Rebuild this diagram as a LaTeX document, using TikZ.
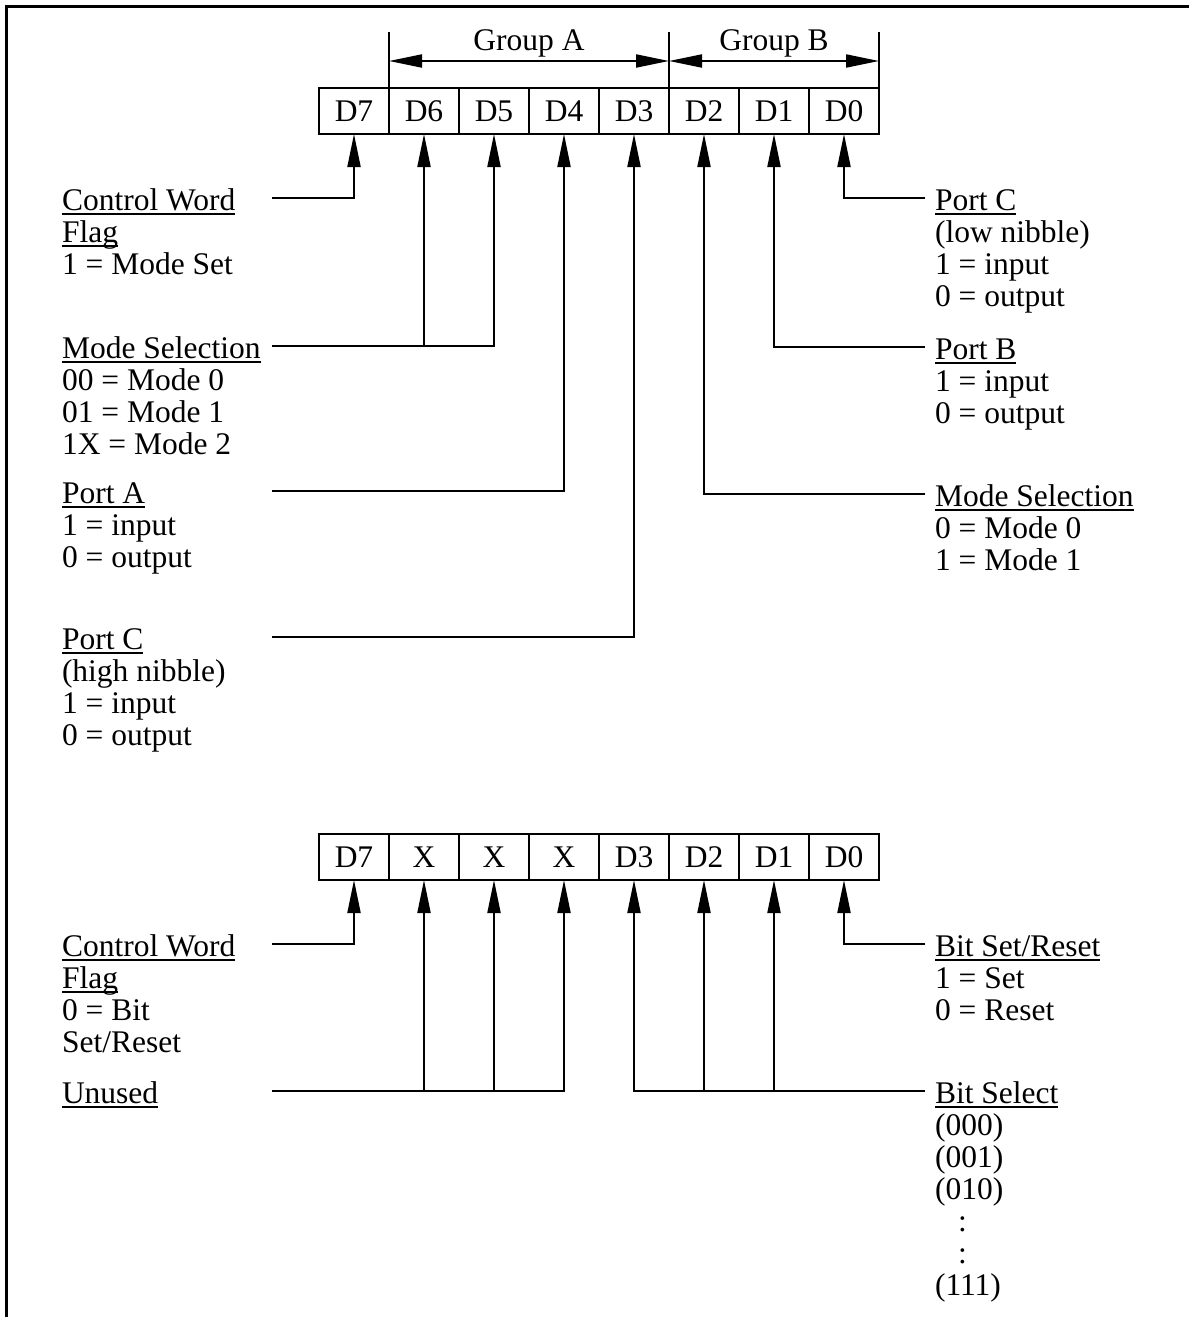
\documentclass[tikz,border=0pt]{standalone}
\usepackage{fontspec}
\setmainfont{Liberation Serif}
\usetikzlibrary{arrows.meta}
\newcommand\ulx[1]{\setbox0\hbox{#1}\rlap{\rule[-4.5pt]{\wd0}{1.5pt}}\box0}
\newcommand\blk[1]{\begin{tabular}[t]{@{}l@{}}#1\end{tabular}}
\begin{document}
\begin{tikzpicture}[x=1pt,y=-1pt,
  every node/.style={font=\fontsize{31.5}{32}\selectfont},
  cell/.style={draw, line width=2pt, minimum width=70pt, minimum height=46pt, inner sep=0pt, outer sep=0pt, anchor=north west},
  lbl/.style={anchor=base west, inner sep=0pt, outer sep=0pt},
  conn/.style={line width=2pt},
  arr/.style={line width=2pt, -{Triangle[length=33pt,width=13pt]}},
  darr/.style={line width=2pt, {Triangle[length=33pt,width=13pt]}-{Triangle[length=33pt,width=13pt]}},
  frame/.style={line width=3pt}
]
\useasboundingbox (0,0) rectangle (1189,1317);
% frame
\coordinate (fbl) at (6.5,1317);
\coordinate (ftl) at (6.5,6);
\coordinate (ftr) at (1189,6);
\draw[frame] (fbl) -- (ftl) -- (ftr);

% top register
\foreach \n/\t [count=\i from 0] in {7/D7,6/D6,5/D5,4/D4,3/D3,2/D2,1/D1,0/D0}
  \node[cell] (t\n) at (319+70*\i,88) {\t};
% bottom register
\foreach \n/\t [count=\i from 0] in {7/D7,6/X,5/X,4/X,3/D3,2/D2,1/D1,0/D0}
  \node[cell] (b\n) at (319+70*\i,834) {\t};

% group brackets
\coordinate (g1) at (389,32);
\coordinate (g2) at (669,32);
\coordinate (g3) at (879,32);
\draw[conn] (g1) -- (t6.north west);
\draw[conn] (g2) -- (t2.north west);
\draw[conn] (g3) -- (t0.north east);
\coordinate (ga1) at (389,61);
\coordinate (ga2) at (669,61);
\coordinate (ga3) at (879,61);
\draw[darr] (ga1) -- (ga2);
\draw[darr] (ga2) -- (ga3);
\node[anchor=base, inner sep=0pt] (grpA) at (529,50) {Group A};
\node[anchor=base, inner sep=0pt] (grpB) at (774,50) {Group B};

% left labels (top)
\node[lbl] (L1) at (62,210) {\blk{\ulx{Control Word}\\\ulx{Flag}\\1 = Mode Set}};
\node[lbl] (L2) at (62,358) {\blk{\ulx{Mode Selection}\\00 = Mode 0\\01 = Mode 1\\1X = Mode 2}};
\node[lbl] (L3) at (62,503) {\blk{\ulx{Port A}\\1 = input\\0 = output}};
\node[lbl] (L4) at (62,649) {\blk{\ulx{Port C}\\(high nibble)\\1 = input\\0 = output}};
% right labels (top)
\node[lbl] (R1) at (935,210) {\blk{\ulx{Port C}\\(low nibble)\\1 = input\\0 = output}};
\node[lbl] (R2) at (935,359) {\blk{\ulx{Port B}\\1 = input\\0 = output}};
\node[lbl] (R3) at (935,506) {\blk{\ulx{Mode Selection}\\0 = Mode 0\\1 = Mode 1}};
% bottom labels
\node[lbl] (L5) at (62,956) {\blk{\ulx{Control Word}\\\ulx{Flag}\\0 = Bit\\Set/Reset}};
\node[lbl] (L6) at (62,1103) {\blk{\ulx{Unused}}};
\node[lbl] (R4) at (935,956) {\blk{\ulx{Bit Set/Reset}\\1 = Set\\0 = Reset}};
\node[lbl] (R5) at (935,1103) {\blk{\ulx{Bit Select}\\(000)\\(001)\\(010)\\\hspace{23pt}:\\\hspace{23pt}:\\(111)}};

% connector start points
\coordinate (cL1) at (272,198);
\coordinate (cL2) at (272,346);
\coordinate (cL3) at (272,491);
\coordinate (cL4) at (272,637);
\coordinate (cR1) at (925,198);
\coordinate (cR2) at (925,347);
\coordinate (cR3) at (925,494);
\coordinate (cL5) at (272,944);
\coordinate (cL6) at (272,1091);
\coordinate (cR4) at (925,944);
\coordinate (cR5) at (925,1091);

% top connectors
\draw[arr] (cL1) -| (t7.south);
\draw[arr] (cL2) -| (t5.south);
\draw[arr] (t6.south |- cL2) -- (t6.south);
\draw[arr] (cL3) -| (t4.south);
\draw[arr] (cL4) -| (t3.south);
\draw[arr] (cR1) -| (t0.south);
\draw[arr] (cR2) -| (t1.south);
\draw[arr] (cR3) -| (t2.south);
% bottom connectors
\draw[arr] (cL5) -| (b7.south);
\draw[arr] (cL6) -| (b4.south);
\draw[arr] (b6.south |- cL6) -- (b6.south);
\draw[arr] (b5.south |- cL6) -- (b5.south);
\draw[arr] (cR4) -| (b0.south);
\draw[arr] (cR5) -| (b3.south);
\draw[arr] (b2.south |- cR5) -- (b2.south);
\draw[arr] (b1.south |- cR5) -- (b1.south);
\end{tikzpicture}
\end{document}
